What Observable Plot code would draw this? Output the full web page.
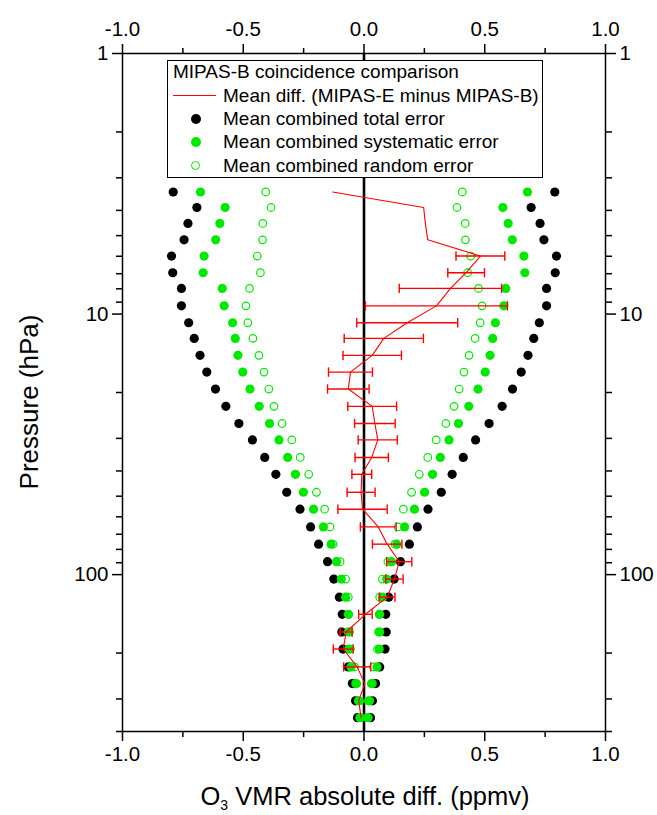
<!DOCTYPE html>
<html><head><meta charset="utf-8">
<script src="https://cdn.jsdelivr.net/npm/d3@7"></script>
<script src="https://cdn.jsdelivr.net/npm/@observablehq/plot@0.6"></script>
<style>
body{margin:0;background:#fff;}
#wrap{position:relative;width:657px;height:815px;font-family:"Liberation Sans",Arial,Helvetica,sans-serif;color:#000;overflow:hidden;}
#wrap svg{position:absolute;left:0;top:0;}
.abs{position:absolute;white-space:nowrap;}
.leg{font-size:19px;line-height:19px;}
</style></head><body><div id="wrap"></div>
<script>
// Pressure levels (hPa)
const pressure = [3.4, 3.9, 4.49, 5.19, 5.99, 6.94, 7.97, 9.3, 10.8, 12.4, 14.4, 16.7, 19.4, 22.6, 26.3, 30.4, 35.5, 41.2, 48.3, 56.1, 65.6, 76.4, 89.2, 104, 122, 142, 166, 193, 226, 262, 305, 354];
// Mean difference MIPAS-E minus MIPAS-B (ppmv)
const meanDiff = [-0.130, 0.247, 0.254, 0.264, 0.482, 0.423, 0.358, 0.300, 0.179, 0.082, 0.034, -0.056, -0.065, 0.034, 0.045, 0.057, 0.032, -0.009, -0.012, -0.006, 0.059, 0.096, 0.146, 0.126, 0.096, 0.006, -0.074, -0.086, -0.028, 0.003, -0.022, -0.012];
// Error bar half width of the mean difference (ppmv)
const diffErr = [null, null, null, null, 0.101, 0.076, 0.212, 0.294, 0.209, 0.164, 0.121, 0.091, 0.086, 0.101, 0.084, 0.081, 0.069, 0.041, 0.058, 0.102, 0.074, 0.061, 0.052, 0.036, 0.032, 0.028, 0.025, 0.041, 0.056, null, null, null];
// Mean combined errors (ppmv), plotted as +/- values
const totalErr = [0.790, 0.692, 0.729, 0.745, 0.797, 0.792, 0.756, 0.756, 0.726, 0.703, 0.679, 0.651, 0.615, 0.572, 0.518, 0.462, 0.411, 0.365, 0.320, 0.265, 0.221, 0.188, 0.151, 0.125, 0.102, 0.090, 0.092, 0.087, 0.065, 0.048, 0.035, 0.027];
const sysErr = [0.677, 0.575, 0.597, 0.614, 0.662, 0.666, 0.587, 0.579, 0.544, 0.533, 0.522, 0.502, 0.472, 0.434, 0.391, 0.352, 0.316, 0.284, 0.251, 0.209, 0.168, 0.136, 0.114, 0.094, 0.076, 0.065, 0.065, 0.063, 0.054, 0.034, 0.023, 0.017];
const randErr = [0.407, 0.385, 0.419, 0.420, 0.442, 0.429, 0.474, 0.489, 0.481, 0.460, 0.435, 0.414, 0.394, 0.373, 0.339, 0.299, 0.264, 0.229, 0.197, 0.163, 0.141, 0.128, 0.099, 0.076, 0.065, 0.063, 0.060, 0.056, 0.039, 0.030, 0.018, 0.014];
// Axis ticks
const xMajorTicks = [-1, -0.5, 0, 0.5, 1];
const xMinorTicks = [-0.75, -0.25, 0.25, 0.75];
const yMajorTicks = [1, 10, 100];
const yMinorTicks = [2, 3, 4, 5, 6, 7, 8, 9, 20, 30, 40, 50, 60, 70, 80, 90, 200, 300, 400];

const legendTitle = "MIPAS-B coincidence comparison";
const legendLabels = ["Mean diff. (MIPAS-E minus MIPAS-B)", "Mean combined total error", "Mean combined systematic error", "Mean combined random error"];

const GREEN = "#00e800";
const RED = "#ff0000";
const FONT = '"Liberation Sans", Arial, Helvetica, sans-serif';

const rows = pressure.map((p, i) => ({p, diff: meanDiff[i], err: diffErr[i], total: totalErr[i], sys: sysErr[i], rand: randErr[i]}));
const mirror = key => rows.flatMap(d => [{p: d.p, x: -d[key]}, {p: d.p, x: d[key]}]);
const withErr = rows.filter(d => d.err != null);
const caps = withErr.flatMap(d => [{p: d.p, x: d.diff - d.err}, {p: d.p, x: d.diff + d.err}]);
const capSymbol = {draw(ctx, size) { const h = Math.sqrt(size / Math.PI); ctx.moveTo(0, -h); ctx.lineTo(0, h); }};
const fmt = d => d.toFixed(1);

const chart = Plot.plot({
  width: 657, height: 815,
  marginLeft: 122, marginRight: 52, marginTop: 53, marginBottom: 84,
  style: {fontFamily: FONT, fontSize: "20.5px", color: "black", background: "white", overflow: "visible"},
  x: {domain: [-1, 1]},
  y: {type: "log", domain: [1, 400], reverse: true},
  marks: [
    Plot.ruleX([0], {stroke: "black", strokeWidth: 2.6}),
    Plot.dot(mirror("total"), {x: "x", y: "p", r: 4.6, fill: "black"}),
    Plot.dot(mirror("sys"), {x: "x", y: "p", r: 4.6, fill: GREEN}),
    Plot.dot(mirror("rand"), {x: "x", y: "p", r: 3.8, fill: "none", stroke: GREEN, strokeWidth: 1.2}),
    Plot.ruleY(withErr, {y: "p", x1: d => d.diff - d.err, x2: d => d.diff + d.err, stroke: RED, strokeWidth: 1.4}),
    Plot.dot(caps, {x: "x", y: "p", r: 4.7, symbol: capSymbol, stroke: RED, fill: "none", strokeWidth: 1.4}),
    Plot.line(rows, {x: "diff", y: "p", stroke: RED, strokeWidth: 1.1}),
    Plot.frame({stroke: "black", strokeWidth: 1.5}),
    Plot.axisX({anchor: "top", ticks: xMajorTicks, tickSize: 10, tickPadding: 8, tickFormat: fmt, label: null, strokeWidth: 1.5, fontSize: 20.5}),
    Plot.axisX({anchor: "top", ticks: xMinorTicks, tickSize: 6, fill: "none", label: null, strokeWidth: 1.5}),
    Plot.axisX({anchor: "bottom", ticks: xMajorTicks, tickSize: 10, tickPadding: 5, tickFormat: fmt, label: null, strokeWidth: 1.5, fontSize: 20.5}),
    Plot.axisX({anchor: "bottom", ticks: xMinorTicks, tickSize: 6, fill: "none", label: null, strokeWidth: 1.5}),
    Plot.axisY({anchor: "left", ticks: yMajorTicks, tickSize: 10, tickPadding: 4, tickFormat: d => String(d), label: null, strokeWidth: 1.5, fontSize: 20.5}),
    Plot.axisY({anchor: "left", ticks: yMinorTicks, tickSize: 6, fill: "none", label: null, strokeWidth: 1.5}),
    Plot.axisY({anchor: "right", ticks: yMajorTicks, tickSize: 10, tickPadding: 4, tickFormat: d => String(d), label: null, strokeWidth: 1.5, fontSize: 20.5}),
    Plot.axisY({anchor: "right", ticks: yMinorTicks, tickSize: 6, fill: "none", label: null, strokeWidth: 1.5})
  ]
});

const wrap = document.getElementById("wrap");
wrap.appendChild(chart);

function addDiv(cls, styles, html) {
  const el = document.createElement("div");
  el.className = cls;
  Object.assign(el.style, styles);
  if (html != null) el.innerHTML = html;
  wrap.appendChild(el);
  return el;
}

// Axis titles
addDiv("abs", {left: "365px", top: "784px", transform: "translateX(-50%)", fontSize: "25.5px", lineHeight: "25.5px"},
  'O<span style="font-size:14px;position:relative;top:5px;">3</span> VMR absolute diff. (ppmv)');
addDiv("abs", {left: "29px", top: "402px", transform: "translate(-50%,-50%) rotate(-90deg)", fontSize: "26px", lineHeight: "26px"},
  "Pressure (hPa)");

// Legend box
addDiv("abs", {left: "167px", top: "60px", width: "376px", height: "118px", boxSizing: "border-box", border: "1.3px solid #000", background: "#fff"});
addDiv("abs leg", {left: "173px", top: (71.7 - 9.5) + "px"}, legendTitle);
const rowY = [95.5, 118.5, 141.8, 165];
addDiv("abs", {left: "173px", top: (rowY[0] - 0.5) + "px", width: "43px", height: "1px", background: RED});
addDiv("abs", {left: (195.7 - 5) + "px", top: (rowY[1] - 5) + "px", width: "10px", height: "10px", borderRadius: "50%", background: "#000"});
addDiv("abs", {left: (195.7 - 5) + "px", top: (rowY[2] - 5) + "px", width: "10px", height: "10px", borderRadius: "50%", background: GREEN});
addDiv("abs", {left: (195.7 - 4.5) + "px", top: (rowY[3] - 4.5) + "px", width: "9px", height: "9px", boxSizing: "border-box", borderRadius: "50%", border: "1.2px solid " + GREEN});
legendLabels.forEach((t, i) => addDiv("abs leg", {left: "223px", top: (rowY[i] - 9.5) + "px"}, t));
</script></body></html>
